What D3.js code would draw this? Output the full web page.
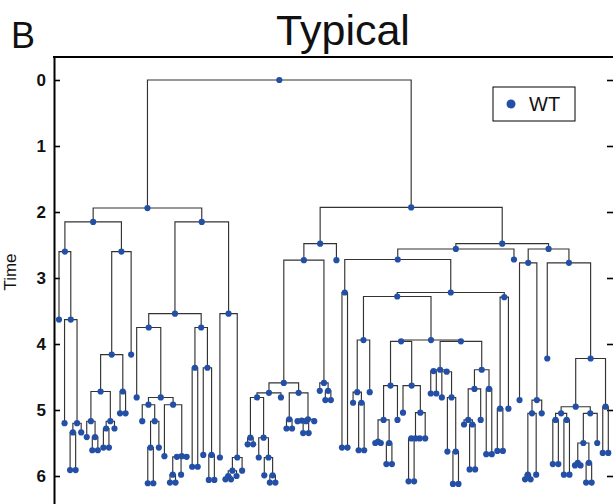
<!DOCTYPE html>
<html><head><meta charset="utf-8">
<script src="https://cdn.jsdelivr.net/npm/d3@7"></script>
<style>body{margin:0;background:#fff}svg{display:block}</style>
</head><body>
<svg id="c" width="613" height="504"></svg>
<script>
(function () {
// ---- DATA: lineage tree, each clade as (child,child)divisionTime, leaves = last observed time ----
const cladeLAa = "(3.63,(5.2,((5.91,5.91)5.34,5.34)5.2)3.63)2.6";
const cladeLAb = "((((5.41,(5.61,5.61)5.41)5.17,((5.57,5.57)5.28,5.28)5.17)4.72,(5.05,5.05)4.72)4.16,4.16)2.6";
const cladeP1 = "(4.81,((5.17,((6.11,6.11)5.57,5.57)5.17)4.92,(5.7,(((6.1,6.1)5.98,5.98)5.71,5.71)5.7)4.92)4.81)3.75";
const cladeP2 = "((5.86,5.86)4.36,(5.68,(6.06,6.06)5.68)4.36)3.75";
const cladeLBb = "(5.72,(((6.05,6.05)6.0,6.0)5.92,5.92)5.72)3.54";
const cladeQ5 = "((5.52,5.52)5.42,(5.72,(5.99,(6.1,6.1)5.99)5.72)5.42)4.81";
const cladeQ4 = "((5.28,5.28)5.14,((5.17,(5.35,5.35)5.17)5.16,5.17)5.14)4.74";
const cladeQ2 = "(4.71,(4.85,4.85)4.71)4.59";
const cladeS1 = "(5.57,5.57)3.22";
const cladeS5 = "((4.89,(5.61,5.61)4.89)4.73,4.73)3.94";
const cladeS9 = "(((5.5,5.5)5.48,(5.82,5.82)5.5)5.15,5.15)4.63";
const cladeS10 = "(5.04,(((6.08,6.08)5.43,5.43)5.43,5.43)5.04)4.63";
const cladeS11 = "((4.75,4.75)4.41,(4.81,(5.63,(6.12,6.12)5.63)4.81)4.42)4.39";
const cladeS12 = "(((5.22,(5.9,5.9)5.22)5.15,5.15)4.68,(5.67,5.67)4.68)4.39";
const cladeS4 = "((5.62,5.62)4.98,4.98)3.29";
const cladeT1 = "(4.85,(((6.05,6.05)5.98,5.98)5.05,5.05)4.85)2.77";
const cladeT4 = "(((5.82,5.82)5.15,(5.98,5.98)5.15)5.05,(((5.84,5.84)5.8,(6.1,6.1)5.8)5.5,5.5)5.05)4.95";
const cladeT5 = "(5.65,5.65)4.95";
// compose
const cladeLA = `(${cladeLAa},${cladeLAb})2.15`;
const cladeLB = `((${cladeP1},${cladeP2})3.54,${cladeLBb})2.15`;
const cladeL = `(${cladeLA},${cladeLB})1.94`;
const cladeRA = `((((${cladeQ5},4.81)4.74,${cladeQ4})4.59,${cladeQ2})2.73,2.73)2.48`;
const cladeS8 = `(${cladeS11},${cladeS12})3.96`;
const cladeS7 = `(${cladeS9},${cladeS10})3.96`;
const cladeRBa = `((${cladeS1},((${cladeS5},(${cladeS7},${cladeS8})3.94)3.28,${cladeS4})3.22)2.72,2.72)2.56`;
const cladeRBb = `(${cladeT1},(4.22,(${cladeT4},${cladeT5})4.22)2.77)2.56`;
const lineage = `(${cladeL},(${cladeRA},(${cladeRBa},${cladeRBb})2.48)1.93)0`;
const yTicks = [0, 1, 2, 3, 4, 5, 6];
const legendLabels = ["WT"];
const titleText = "Typical";
const panelLetter = "B";
const yLabel = "Time";

// ---- parse ----
function parseNewick(s) {
  let i = 0;
  function num() { const j = i; while (i < s.length && /[0-9.\-]/.test(s[i])) i++; return +s.slice(j, i); }
  function node() {
    if (s[i] === "(") {
      i++;
      const kids = [node()];
      while (s[i] === ",") { i++; kids.push(node()); }
      i++; // ')'
      return { t: num(), children: kids };
    }
    return { t: num() };
  }
  return node();
}

const svg = d3.select("#c");
const dotColor = "#2350a6";

const yScale = d3.scaleLinear().domain([0, 6]).range([80, 476]);
const root = d3.hierarchy(parseNewick(lineage));
const leaves = root.leaves();
const xScale = d3.scaleLinear().domain([0, leaves.length - 1]).range([59, 608.3]);
leaves.forEach((l, i) => l.x = xScale(i));
root.eachAfter(n => {
  if (n.children) n.x = (n.children[0].x + n.children[n.children.length - 1].x) / 2;
  n.y = yScale(n.data.t);
});

// axes frame
const fLeft = 54, fRight = 614, fTop = 57, fBottom = 520;
const yAxisScale = d3.scaleLinear().domain([yScale.invert(fTop), yScale.invert(fBottom)]).range([fTop, fBottom]);
const gL = svg.append("g").attr("transform", `translate(${fLeft},0)`)
  .call(d3.axisLeft(yAxisScale).tickValues(yTicks).tickFormat(d3.format("d")).tickSize(-6).tickSizeOuter(0).tickPadding(8));
gL.select(".domain").attr("stroke-width", 2);
gL.selectAll(".tick line").attr("stroke-width", 1.6);
gL.selectAll(".tick text").attr("font-family", "Liberation Sans, Arial, sans-serif")
  .attr("font-size", 17).attr("font-weight", "bold").attr("fill", "#111");
const gR = svg.append("g").attr("transform", `translate(${fRight},0)`)
  .call(d3.axisRight(yAxisScale).tickValues(yTicks).tickSize(-7).tickSizeOuter(0).tickFormat(""));
gR.select(".domain").attr("stroke-width", 2);
gR.selectAll(".tick line").attr("stroke-width", 1.6);
svg.append("line").attr("x1", fLeft - 1).attr("x2", fRight).attr("y1", fTop).attr("y2", fTop)
  .attr("stroke", "#000").attr("stroke-width", 2);

// links
const links = svg.append("g").attr("fill", "none").attr("stroke", "#333").attr("stroke-width", 1.15);
root.descendants().filter(n => n.children).forEach(n => {
  const a = n.children[0], b = n.children[n.children.length - 1];
  links.append("path").attr("d", `M${a.x},${a.y}V${n.y}H${b.x}V${b.y}`);
});

// nodes
svg.append("g").selectAll("circle").data(root.descendants()).join("circle")
  .attr("cx", d => d.x).attr("cy", d => d.y).attr("r", 3.1).attr("fill", dotColor);

// legend
const lg = svg.append("g").attr("transform", "translate(493,87)");
lg.append("rect").attr("width", 82).attr("height", 34).attr("fill", "#fff").attr("stroke", "#000").attr("stroke-width", 1);
legendLabels.forEach((lab, i) => {
  lg.append("circle").attr("cx", 18).attr("cy", 17 + i * 20).attr("r", 4.5).attr("fill", dotColor);
  lg.append("text").attr("x", 36).attr("y", 24 + i * 20).text(lab)
    .attr("font-family", "Liberation Sans, Arial, sans-serif").attr("font-size", 20).attr("fill", "#111");
});

// title, letter, y label
svg.append("text").attr("x", 343).attr("y", 45).attr("text-anchor", "middle").text(titleText)
  .attr("font-family", "Liberation Sans, Arial, sans-serif").attr("font-size", 43).attr("fill", "#111");
svg.append("text").attr("x", 11).attr("y", 48).text(panelLetter)
  .attr("font-family", "Liberation Sans, Arial, sans-serif").attr("font-size", 36).attr("fill", "#111");
svg.append("text").attr("transform", "translate(16,272) rotate(-90)").attr("text-anchor", "middle").text(yLabel)
  .attr("font-family", "Liberation Sans, Arial, sans-serif").attr("font-size", 17).attr("fill", "#111");
})();
</script>
</body></html>
